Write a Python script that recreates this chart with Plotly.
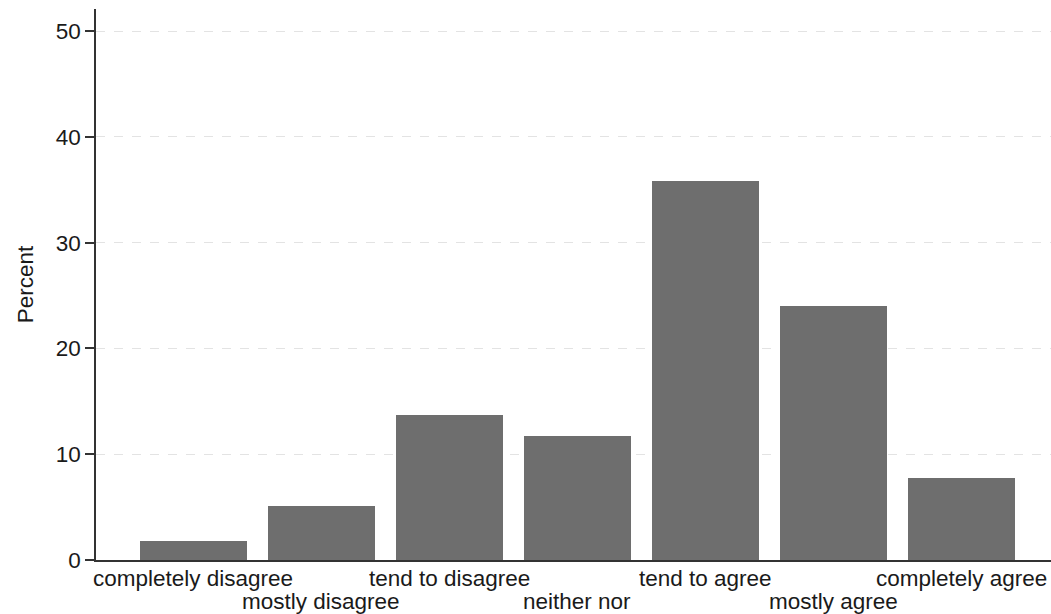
import plotly.graph_objects as go

categories = ["completely disagree", "mostly disagree", "tend to disagree", "neither nor",
              "tend to agree", "mostly agree", "completely agree"]
percent = [1.84, 5.15, 13.67, 11.74, 35.8, 24.02, 7.77]
y_ticks = [0, 10, 20, 30, 40, 50]

x_pos = list(range(len(categories)))

fig = go.Figure(go.Bar(x=x_pos, y=percent, width=0.832, marker=dict(color="#6e6e6e", line=dict(width=0))))

font = "Liberation Sans, Arial, Helvetica, sans-serif"
FS = 22.5
fig.update_layout(
    width=1051, height=614,
    margin=dict(l=96, r=0, t=9, b=54),
    paper_bgcolor="white", plot_bgcolor="white",
    font=dict(family=font, size=FS, color="#1a1a1a"),
    showlegend=False,
    bargap=0,
)
# staggered category labels below the axis
for i, c in zip(x_pos, categories):
    fig.add_annotation(
        x=i, xref="x", y=0, yref="paper",
        text=c, showarrow=False,
        xanchor="center", yanchor="middle",
        yshift=-18 if i % 2 == 0 else -41,
        font=dict(size=FS, family=font, color="#1a1a1a"),
    )
fig.update_xaxes(
    range=[-0.76, 6.70],
    tickmode="array", tickvals=x_pos, showticklabels=False,
    automargin=False,
    showgrid=False, zeroline=False,
    showline=True, linecolor="#333333", linewidth=1.5,
    ticks="",
)
fig.update_yaxes(
    range=[0, 52.1], automargin=False,
    tickmode="array", tickvals=y_ticks,
    showgrid=True, gridcolor="#e3e3e3", griddash="dash", gridwidth=1,
    zeroline=False,
    showline=True, linecolor="#333333", linewidth=1.5,
    ticks="outside", ticklen=9, tickcolor="#333333", tickwidth=1.5,
    ticklabelstandoff=0,
    tickfont=dict(size=FS),
    title=dict(text="Percent", font=dict(size=FS), standoff=16),
)
fig.write_html(
    "out.html",
    config={"displayModeBar": False},
    post_script="document.body.style.margin='0';document.body.style.overflow='hidden';",
)
